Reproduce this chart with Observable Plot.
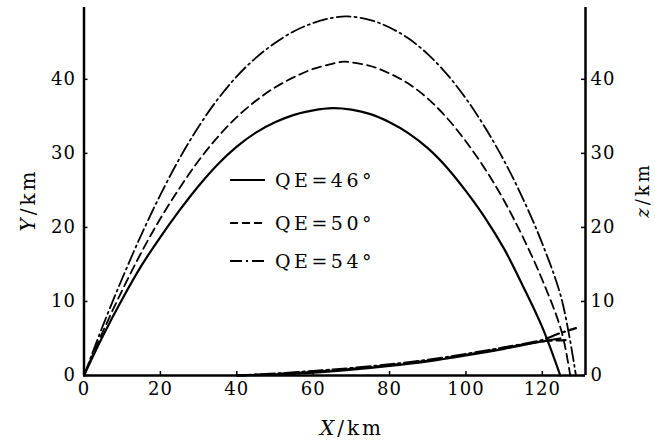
<!DOCTYPE html>
<html><head><meta charset="utf-8">
<script src="https://cdn.jsdelivr.net/npm/d3@7"></script>
<script src="https://cdn.jsdelivr.net/npm/@observablehq/plot@0.6"></script>
<style>
body{margin:0;background:#fff;}
#wrap{position:relative;width:655px;height:440px;}
</style></head><body><div id="wrap"></div>
<script>
// Series labels
const series = ["QE=46°", "QE=50°", "QE=54°"];

// Trajectory height Y (km) vs range X (km)
const x46 = [0,5,10,15,20,25,30,35,40,45,50,55,60,65,70,75,80,85,90,95,100,105,110,115,120,124.7];
const y46 = [0,5.4,10.3,14.8,18.7,22.3,25.6,28.5,30.9,32.8,34.2,35.2,35.8,36.1,35.9,35.3,34.2,32.7,30.7,28.1,24.9,21.3,17.1,12.0,6.5,0];

const x50 = [0,5,10,15,20,25,30,35,40,45,50,55,60,65,68,70,75,80,85,90,95,100,105,110,115,120,125,127.3];
const y50 = [0,6.0,11.5,16.6,21.2,25.3,29.0,32.2,34.9,37.1,38.9,40.3,41.4,42.1,42.4,42.3,41.8,40.8,39.4,37.4,34.8,31.6,27.9,23.6,18.6,12.9,6.0,0];

const x54 = [0,5,10,15,20,25,30,35,40,45,50,55,60,65,69,75,80,85,90,95,100,105,110,115,120,125,128.8];
const y54 = [0,6.8,13.1,19.0,24.4,29.3,33.6,37.3,40.4,42.9,44.9,46.5,47.6,48.3,48.5,48.0,47.0,45.5,43.4,40.7,37.4,33.5,29.0,23.8,17.8,10.4,0];

// Lateral deviation z (km) vs range X (km)
const xz46 = [40,50,60,70,80,90,100,110,120,124.7];
const z46  = [0,0.15,0.4,0.8,1.3,1.9,2.7,3.6,4.6,5.0];
const xz50 = [40,50,60,70,80,90,100,110,120,127.3];
const z50  = [0,0.2,0.5,0.9,1.4,2.0,2.8,3.7,4.6,4.8];
const xz54 = [40,50,60,70,80,90,100,110,120,124,128.8];
const z54  = [0,0.25,0.6,1.0,1.5,2.1,2.9,3.8,4.8,5.6,6.4];

// Axes
const xTicks = [0,20,40,60,80,100,120];
const yTicks = [0,10,20,30,40];
const xDomain = [0,131.3];
const yDomain = [0,49.7];

function rows(xs, ys){ return xs.map((x,i)=>({x, y: ys[i]})); }

const W=655, H=440, mL=83.5, mR=70, mT=7, mB=65;
const fw = W-mL-mR, fh = H-mT-mB;
const dashes = [null, "9,5", "14,4,2,4"];

const traj = [rows(x46,y46), rows(x50,y50), rows(x54,y54)];
const lat = [rows(xz46,z46), rows(xz50,z50), rows(xz54,z54)];

const marks = [
  Plot.axisX({ticks: xTicks, tickSize: 0, tickPadding: 7, label: null}),
  Plot.axisY({anchor: "left", ticks: yTicks, tickSize: 0, tickPadding: 8, label: null}),
  Plot.axisY({anchor: "right", ticks: yTicks, tickSize: 0, tickPadding: 5, label: null}),
  Plot.tickX(xTicks, {x: d=>d, insetTop: fh-4, strokeWidth: 1.5}),
  Plot.tickY(yTicks, {y: d=>d, insetRight: fw-4, strokeWidth: 1.5}),
  Plot.tickY(yTicks, {y: d=>d, insetLeft: fw-4, strokeWidth: 1.5})
];
traj.forEach((d,i)=>marks.push(Plot.line(d, {x:"x", y:"y", curve:"catmull-rom", stroke:"black",
  strokeWidth: i===0 ? 2.2 : 1.8, strokeDasharray: dashes[i]})));
lat.forEach((d,i)=>marks.push(Plot.line(d, {x:"x", y:"y", curve:"catmull-rom", stroke:"black",
  strokeWidth: 2.2, strokeDasharray: dashes[i]})));
marks.push(Plot.ruleX(xDomain, {strokeWidth: 2.5}));
marks.push(Plot.ruleY([0], {strokeWidth: 2.5}));

const plot = Plot.plot({
  width: W, height: H, marginLeft: mL, marginRight: mR, marginTop: mT, marginBottom: mB,
  x: {domain: xDomain}, y: {domain: yDomain},
  style: {fontFamily: "DejaVu Serif", fontSize: "18px", background: "white", color: "black"},
  marks
});
document.getElementById("wrap").appendChild(plot);

const svg = d3.select(plot);
svg.selectAll("[aria-label$='tick label'] text").attr("letter-spacing", 1);

// Axis titles
function title(x, y, rot, it, rest, size){
  const t = svg.append("text")
    .attr("transform", `translate(${x},${y}) rotate(${rot})`)
    .attr("text-anchor", "middle").attr("dominant-baseline", "central")
    .attr("font-family", "DejaVu Serif").attr("font-size", size).attr("letter-spacing", 3)
    .attr("fill", "black");
  t.append("tspan").attr("font-style", "italic").text(it);
  t.append("tspan").text(rest);
}
title(28, 200, -90, "Y", "/km", 20);
title(352, 428, 0, "X", "/km", 20);
title(642, 190, -90, "z", "/km", 18);

// Legend
const lg = svg.append("g").attr("text-anchor", "start");
const ly = [180, 223, 261];
series.forEach((s,i)=>{
  lg.append("line").attr("x1", 230).attr("x2", 265).attr("y1", ly[i]).attr("y2", ly[i])
    .attr("stroke", "black").attr("stroke-width", 1.8)
    .attr("stroke-dasharray", i===0 ? null : (i===1 ? "8,4" : "12,4,2,4"));
  lg.append("text").attr("x", 275).attr("y", ly[i]).attr("dominant-baseline", "central")
    .attr("text-anchor", "start")
    .attr("font-family", "DejaVu Serif").attr("font-size", 19).attr("letter-spacing", 3.5)
    .attr("fill", "black").text(s);
});
</script></body></html>
